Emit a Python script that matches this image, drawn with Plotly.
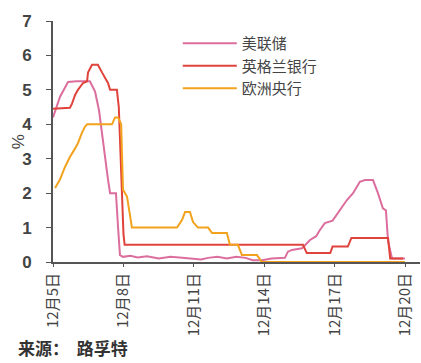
import plotly.graph_objects as go

# x = days since 12月5日
tick_vals = [0, 3, 6, 9, 12, 15]
tick_text = ["12月5日", "12月8日", "12月11日", "12月14日", "12月17日", "12月20日"]

fed_x = [0, 0.3, 0.64, 1.0, 1.57, 1.79, 1.96, 2.09, 2.21, 2.34, 2.43, 2.68, 2.77, 2.85, 2.98,
         3.3, 3.6, 4.0, 4.5, 5.0, 5.5, 6.0, 6.3, 6.6, 7.0, 7.4, 7.8, 8.2, 8.5, 8.9, 9.3, 9.87,
         10.0, 10.17, 10.6, 10.94, 11.2, 11.36, 11.57, 11.9, 12.21, 12.51, 12.77, 13.06, 13.28,
         13.62, 13.83, 14.04, 14.17, 14.26, 14.43, 14.98]
fed_y = [4.2, 4.8, 5.23, 5.25, 5.25, 4.95, 4.4, 3.7, 3.0, 2.4, 2.0, 2.0, 1.0, 0.2, 0.15,
         0.18, 0.13, 0.17, 0.1, 0.15, 0.12, 0.08, 0.07, 0.12, 0.15, 0.1, 0.15, 0.12, 0.05, 0.05, 0.1, 0.12,
         0.3, 0.35, 0.4, 0.64, 0.75, 0.93, 1.13, 1.2, 1.5, 1.8, 2.0, 2.33, 2.38,
         2.38, 2.0, 1.56, 1.5, 0.6, 0.1, 0.1]

boe_x = [0, 0.72, 0.81, 0.94, 1.06, 1.28, 1.45, 1.49, 1.66, 1.91, 2.09, 2.21, 2.34, 2.43, 2.72,
         2.8, 2.9, 3.0, 3.05, 10.64, 10.8, 11.8, 11.9, 12.55, 12.7, 14.26, 14.35, 14.9]
boe_y = [4.45, 4.48, 4.6, 4.85, 5.0, 5.2, 5.25, 5.5, 5.73, 5.73, 5.5, 5.35, 5.2, 5.0, 5.0,
         4.5, 2.5, 0.8, 0.5, 0.5, 0.26, 0.26, 0.45, 0.45, 0.7, 0.7, 0.1, 0.1]

ecb_x = [0.09, 0.3, 0.51, 0.72, 0.94, 1.06, 1.23, 1.36, 1.45, 2.51, 2.64, 2.77, 2.9, 2.98, 3.15,
         3.3, 3.36, 5.28, 5.49, 5.62, 5.83, 5.96, 6.17, 6.6, 6.77, 7.4, 7.53, 7.87, 8.04, 8.68,
         8.89, 14.98]
ecb_y = [2.15, 2.4, 2.76, 3.05, 3.3, 3.45, 3.75, 3.93, 4.0, 4.0, 4.2, 4.2, 4.0, 2.1, 1.9,
         1.2, 1.0, 1.0, 1.22, 1.45, 1.45, 1.16, 1.0, 1.0, 0.84, 0.84, 0.5, 0.5, 0.2, 0.2,
         0.0, 0.0]

names = ["美联储", "英格兰银行", "欧洲央行"]
colors = ["#dc6e9e", "#e0433c", "#f2a21c"]

FONT = "Liberation Sans, Arial, Noto Sans CJK SC, sans-serif"
CJK = "Noto Sans CJK SC, Liberation Sans, sans-serif"

fig = go.Figure()
for xs, ys, n, c in [(fed_x, fed_y, names[0], colors[0]),
                     (boe_x, boe_y, names[1], colors[1]),
                     (ecb_x, ecb_y, names[2], colors[2])]:
    fig.add_trace(go.Scatter(x=xs, y=ys, name=n, mode="lines",
                             line=dict(color=c, width=2), cliponaxis=False))

fig.update_layout(
    width=421, height=363,
    margin=dict(l=53, r=1, t=21, b=101),
    plot_bgcolor="white", paper_bgcolor="white",
    showlegend=True,
    legend=dict(x=0.34, y=0.975, xanchor="left", yanchor="top",
                font=dict(family=CJK, size=15, color="#444"),
                bgcolor="rgba(255,255,255,0.9)", itemwidth=54,
                tracegroupgap=0),
    xaxis=dict(range=[0, 15.62], tickmode="array", tickvals=tick_vals, ticktext=tick_text,
               tickangle=-90, showgrid=False, zeroline=False,
               showline=True, linecolor="#555", linewidth=2,
               ticks="outside", ticklen=3, tickcolor="#555",
               tickfont=dict(family=CJK, size=15, color="#444")),
    yaxis=dict(range=[0, 7], dtick=1, showgrid=False, zeroline=False,
               showline=True, linecolor="#555", linewidth=2,
               ticks="outside", ticklen=5, tickcolor="#555", ticklabelstandoff=11,
               tickfont=dict(family=FONT, size=17, color="#444", weight="bold")),
)

fig.add_annotation(text="%", xref="paper", yref="paper", x=-0.093, y=0.5,
                   xanchor="center", yanchor="middle", textangle=-90, showarrow=False,
                   font=dict(family=FONT, size=17, color="#444"))
fig.add_annotation(text="来源：  路孚特", xref="paper", yref="paper", x=-0.097, y=-0.41,
                   xanchor="left", yanchor="bottom", showarrow=False, borderpad=0,
                   font=dict(family=CJK, size=17, color="#333", weight="bold"))

fig.write_html("out.html")
